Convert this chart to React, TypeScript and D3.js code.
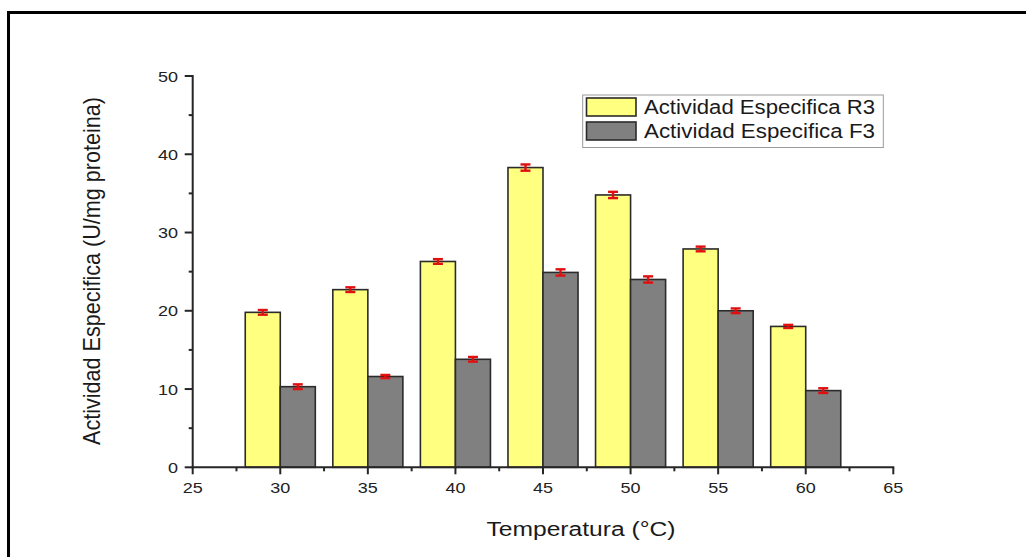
import React from "react";
import * as d3 from "d3";

const temperatures = [30, 35, 40, 45, 50, 55, 60];
const actividadR3 = [19.8, 22.7, 26.3, 38.3, 34.8, 27.9, 18.0];
const actividadF3 = [10.3, 11.6, 13.8, 24.9, 24.0, 20.0, 9.8];
const errorR3 = [0.3, 0.3, 0.3, 0.4, 0.4, 0.3, 0.2];
const errorF3 = [0.3, 0.2, 0.3, 0.4, 0.4, 0.3, 0.3];
const xTicks = [25, 30, 35, 40, 45, 50, 55, 60, 65];
const xMinorTicks = [27.5, 32.5, 37.5, 42.5, 47.5, 52.5, 57.5, 62.5];
const yTicks = [0, 10, 20, 30, 40, 50];
const yMinorTicks = [5, 15, 25, 35, 45];
const seriesNames = ["Actividad Especifica R3", "Actividad Especifica F3"];
const xTitle = "Temperatura (°C)";
const yTitle = "Actividad Especifica (U/mg proteina)";

const BAR_WIDTH = 2;
const YELLOW = "#ffff80";
const GRAY = "#808080";
const EDGE = "#2b2b2b";
const RED = "#e01010";
const AXIS = "#262626";
const FONT = "Arial, 'Liberation Sans', sans-serif";
const SX = 1.2;

export default function App() {
  const x = d3.scaleLinear().domain([25, 65]).range([192.7, 893.3]);
  const y = d3.scaleLinear().domain([0, 50]).range([467.3, 76]);

  const series = [
    { values: actividadR3, errors: errorR3, fill: YELLOW, offset: -BAR_WIDTH },
    { values: actividadF3, errors: errorF3, fill: GRAY, offset: 0 },
  ];

  const stretched = (tx: number, ty: number) => `translate(${tx},${ty}) scale(${SX},1)`;

  return (
    <svg
      width={1026}
      height={557}
      viewBox="0 0 1026 557"
      style={{ position: "absolute", left: 0, top: 0, background: "#fff" }}
    >
      {/* outer frame: top and left edges */}
      <line x1={7} x2={1026} y1={12.5} y2={12.5} stroke="#000" strokeWidth={3} />
      <line x1={8.5} x2={8.5} y1={11} y2={557} stroke="#000" strokeWidth={3} />

      {/* bars */}
      {series.map((s, si) =>
        temperatures.map((t, i) => {
          const x0 = x(t + s.offset);
          const x1 = x(t + s.offset + BAR_WIDTH);
          return (
            <rect
              key={`b${si}-${i}`}
              x={x0}
              y={y(s.values[i])}
              width={x1 - x0}
              height={y(0) - y(s.values[i])}
              fill={s.fill}
              stroke={EDGE}
              strokeWidth={1.6}
            />
          );
        })
      )}

      {/* error bars */}
      {series.map((s, si) =>
        temperatures.map((t, i) => {
          const cx = x(t + s.offset + BAR_WIDTH / 2);
          const top = y(s.values[i] + s.errors[i]);
          const bot = y(s.values[i] - s.errors[i]);
          return (
            <g key={`e${si}-${i}`} stroke={RED} strokeWidth={2.4}>
              <line x1={cx} x2={cx} y1={top} y2={bot} />
              <line x1={cx - 5} x2={cx + 5} y1={top} y2={top} />
              <line x1={cx - 5} x2={cx + 5} y1={bot} y2={bot} />
            </g>
          );
        })
      )}

      {/* x axis */}
      <line x1={x(25) - 1} x2={x(65) + 1} y1={y(0)} y2={y(0)} stroke={AXIS} strokeWidth={2} />
      {xTicks.map((t) => (
        <g key={`xt${t}`}>
          <line x1={x(t)} x2={x(t)} y1={y(0)} y2={y(0) + 7} stroke={AXIS} strokeWidth={2} />
          <text
            transform={stretched(x(t), 493)}
            textAnchor="middle"
            fontFamily={FONT}
            fontSize={15}
            fill="#222"
          >
            {t}
          </text>
        </g>
      ))}
      {xMinorTicks.map((t) => (
        <line key={`xm${t}`} x1={x(t)} x2={x(t)} y1={y(0)} y2={y(0) + 4} stroke={AXIS} strokeWidth={2} />
      ))}

      {/* y axis */}
      <line x1={x(25)} x2={x(25)} y1={y(50) - 1} y2={y(0) + 1} stroke={AXIS} strokeWidth={2} />
      {yTicks.map((t) => (
        <g key={`yt${t}`}>
          <line x1={x(25) - 8} x2={x(25)} y1={y(t)} y2={y(t)} stroke={AXIS} strokeWidth={2} />
          <text
            transform={stretched(178, y(t) + 5.5)}
            textAnchor="end"
            fontFamily={FONT}
            fontSize={15}
            fill="#222"
          >
            {t}
          </text>
        </g>
      ))}
      {yMinorTicks.map((t) => (
        <line key={`ym${t}`} x1={x(25) - 4} x2={x(25)} y1={y(t)} y2={y(t)} stroke={AXIS} strokeWidth={2} />
      ))}

      {/* axis titles */}
      <text
        x={581}
        y={536}
        textAnchor="middle"
        fontFamily={FONT}
        fontSize={20}
        fill="#1a1a1a"
        textLength={189}
        lengthAdjust="spacingAndGlyphs"
      >
        {xTitle}
      </text>
      <g transform="translate(100,271) rotate(-90)">
        <text
          x={0}
          y={0}
          textAnchor="middle"
          fontFamily={FONT}
          fontSize={20}
          fill="#1a1a1a"
          textLength={348}
          lengthAdjust="spacingAndGlyphs"
          transform={`scale(1,${SX})`}
        >
          {yTitle}
        </text>
      </g>

      {/* legend */}
      <rect x={582.7} y={95} width={300.6} height={52.5} fill="#fff" stroke="#9a9a9a" strokeWidth={1} />
      {seriesNames.map((name, i) => (
        <g key={`lg${i}`}>
          <rect
            x={586.5}
            y={98 + i * 24}
            width={49.5}
            height={18}
            fill={i === 0 ? YELLOW : GRAY}
            stroke={EDGE}
            strokeWidth={1.6}
          />
          <text
            x={644}
            y={113.5 + i * 24}
            fontFamily={FONT}
            fontSize={20}
            fill="#1a1a1a"
            textLength={231}
            lengthAdjust="spacingAndGlyphs"
          >
            {name}
          </text>
        </g>
      ))}
    </svg>
  );
}
